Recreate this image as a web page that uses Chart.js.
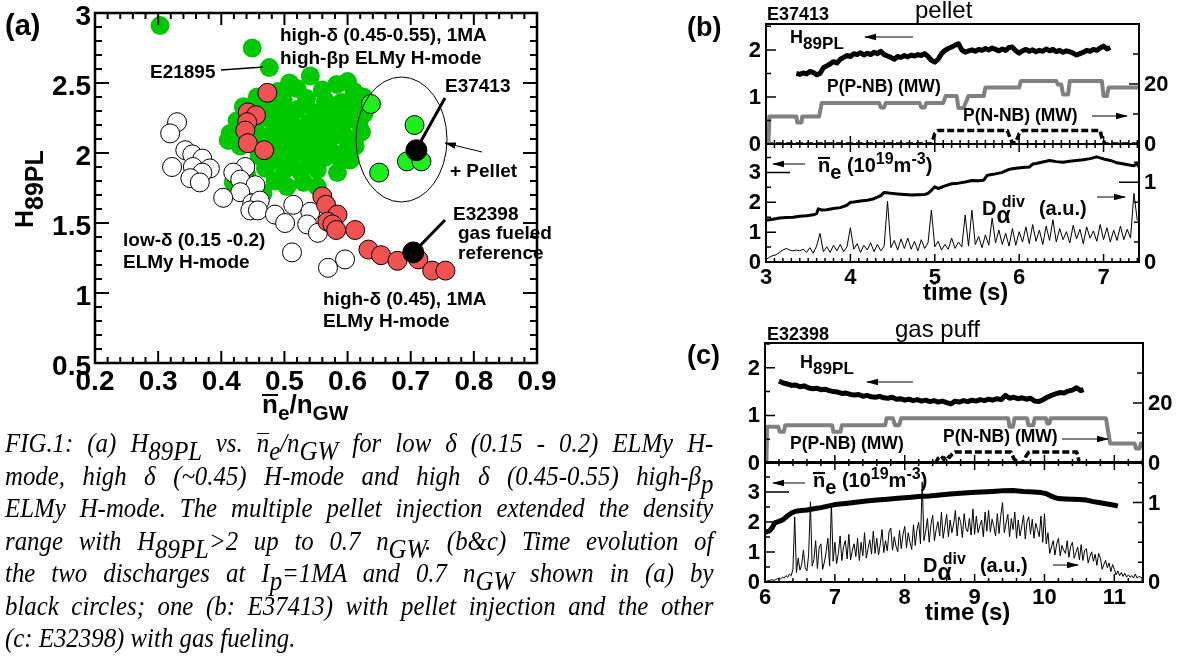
<!DOCTYPE html>
<html>
<head>
<meta charset="utf-8">
<script src="https://cdn.jsdelivr.net/npm/chart.js@4.4.1/dist/chart.umd.min.js"></script>
<style>
  body { margin: 0; background: #fff; }
  #page { position: relative; width: 1188px; height: 662px; overflow: hidden; background: #fff; }
  canvas { position: absolute; }
  .t { position: absolute; font-family: 'Liberation Sans', Arial, sans-serif; font-weight: bold; line-height: 1; white-space: nowrap; color: #000; }
  .n { font-weight: normal; }
  .sub { position: relative; top: 0.35em; }
  .sup { position: relative; top: -0.5em; font-size: 0.8em; }
  .ol { display: inline-block; line-height: 0.68em; border-top: 2px solid #000; }
  .cap { position: absolute; left: 5px; width: 770px; transform: scaleX(0.92); transform-origin: 0 0; font-family: 'Liberation Serif', 'Times New Roman', serif; font-style: italic; font-size: 27px; line-height: 32.5px; text-align: justify; text-align-last: justify; color: #000; }
  .cap.last { text-align-last: left; }
  .cs { position: relative; top: 0.3em; }
  .cap .ol { border-top-width: 1.5px; }
</style>
</head>
<body>
<div id="page">
  <canvas id="chartA" width="560" height="400" style="left:0;top:0"></canvas>
  <canvas id="chartB1" width="488" height="152" style="left:700px;top:0"></canvas>
  <canvas id="chartB2" width="488" height="180" style="left:700px;top:130px"></canvas>
  <canvas id="chartC1" width="488" height="150" style="left:700px;top:320px"></canvas>
  <canvas id="chartC2" width="488" height="212" style="left:700px;top:450px"></canvas>

  <svg width="1188" height="662" style="position:absolute;left:0;top:0;pointer-events:none">
    <defs>
      <marker id="ah" markerWidth="12" markerHeight="8" refX="11" refY="4" orient="auto" markerUnits="userSpaceOnUse">
        <path d="M0,0.8 L12,4 L0,7.2 Z" fill="#000"></path>
      </marker>
    </defs>
    <g stroke="#000" fill="none">
      <line x1="221" y1="70" x2="263" y2="67" stroke-width="1.5"></line>
      <ellipse cx="401.5" cy="139.5" rx="45.5" ry="62.5" stroke-width="1"></ellipse>
      <line x1="416" y1="150" x2="445" y2="98" stroke-width="3"></line>
      <line x1="482" y1="152" x2="445" y2="143" stroke-width="1" marker-end="url(#ah)"></line>
      <line x1="413" y1="253" x2="445" y2="220" stroke-width="3"></line>

      <line x1="913" y1="37" x2="865" y2="37" stroke-width="1" marker-end="url(#ah)"></line>
      <line x1="1092" y1="116" x2="1127" y2="116" stroke-width="1" marker-end="url(#ah)"></line>
      <line x1="805" y1="164" x2="773" y2="164" stroke-width="1" marker-end="url(#ah)"></line>
      <line x1="1097" y1="197" x2="1125" y2="197" stroke-width="1" marker-end="url(#ah)"></line>

      <line x1="913" y1="382" x2="867" y2="382" stroke-width="1" marker-end="url(#ah)"></line>
      <line x1="1062" y1="439" x2="1108" y2="439" stroke-width="1" marker-end="url(#ah)"></line>
      <line x1="805" y1="483" x2="773" y2="483" stroke-width="1" marker-end="url(#ah)"></line>
      <line x1="1053" y1="565" x2="1078" y2="565" stroke-width="1" marker-end="url(#ah)"></line>
    </g>
  </svg>

  <!-- panel (a) text -->
  <div class="t" style="left:5px;top:11px;font-size:29px">(a)</div>
  <div class="t" style="left:12px;top:228px;font-size:25px;transform-origin:0 0;transform:rotate(-90deg)">H<span style="position:relative;top:10px">89PL</span></div>
  <div class="t" style="left:262px;top:391px;font-size:26px"><span class="ol">n</span><span class="sub" style="font-size:0.8em">e</span>/n<span class="sub" style="font-size:0.8em">GW</span></div>
  <div class="t" style="left:280px;top:25px;font-size:19px">high-δ (0.45-0.55), 1MA</div>
  <div class="t" style="left:280px;top:48px;font-size:19px">high-βp ELMy H-mode</div>
  <div class="t" style="left:150px;top:62px;font-size:19px">E21895</div>
  <div class="t" style="left:445px;top:76px;font-size:19px">E37413</div>
  <div class="t" style="left:450px;top:161px;font-size:19px">+ Pellet</div>
  <div class="t" style="left:453px;top:204px;font-size:19px">E32398</div>
  <div class="t" style="left:458px;top:223px;font-size:19px">gas fueled</div>
  <div class="t" style="left:458px;top:243px;font-size:19px">reference</div>
  <div class="t" style="left:123px;top:230px;font-size:19px">low-δ (0.15 -0.2)</div>
  <div class="t" style="left:123px;top:252px;font-size:19px">ELMy H-mode</div>
  <div class="t" style="left:323px;top:289px;font-size:19px">high-δ (0.45), 1MA</div>
  <div class="t" style="left:323px;top:311px;font-size:19px">ELMy H-mode</div>

  <!-- panel (b) text -->
  <div class="t" style="left:687px;top:14px;font-size:27px">(b)</div>
  <div class="t" style="left:767px;top:5px;font-size:18px">E37413</div>
  <div class="t n" style="left:915px;top:-2px;font-size:24px">pellet</div>
  <div class="t" style="left:790px;top:28px;font-size:18px">H<span class="sub" style="font-size:0.95em">89PL</span></div>
  <div class="t" style="left:827px;top:78px;font-size:17.5px">P(P-NB) (MW)</div>
  <div class="t" style="left:963px;top:107px;font-size:17.5px">P(N-NB) (MW)</div>
  <div class="t" style="left:818px;top:155px;font-size:20px"><span class="ol">n</span><span class="sub">e</span> (10<span class="sup">19</span>m<span class="sup">-3</span>)</div>
  <div class="t" style="left:982px;top:196px;font-size:20px">D<span class="sub" style="font-size:1.15em">α</span><span class="sup" style="margin-left:-0.55em">div</span><span style="margin-left:14px">(a.u.)</span></div>
  <div class="t" style="left:923px;top:280px;font-size:24px">time (s)</div>

  <!-- panel (c) text -->
  <div class="t" style="left:687px;top:342px;font-size:27px">(c)</div>
  <div class="t" style="left:767px;top:325px;font-size:18px">E32398</div>
  <div class="t n" style="left:895px;top:317px;font-size:24px">gas puff</div>
  <div class="t" style="left:800px;top:353px;font-size:18px">H<span class="sub" style="font-size:0.95em">89PL</span></div>
  <div class="t" style="left:790px;top:435px;font-size:17.5px">P(P-NB) (MW)</div>
  <div class="t" style="left:943px;top:428px;font-size:17.5px">P(N-NB) (MW)</div>
  <div class="t" style="left:813px;top:470px;font-size:20px"><span class="ol">n</span><span class="sub">e</span> (10<span class="sup">19</span>m<span class="sup">-3</span>)</div>
  <div class="t" style="left:923px;top:553px;font-size:20px">D<span class="sub" style="font-size:1.15em">α</span><span class="sup" style="margin-left:-0.55em">div</span><span style="margin-left:14px">(a.u.)</span></div>
  <div class="t" style="left:925px;top:600px;font-size:24px">time (s)</div>

  <!-- caption -->
  <div class="cap" style="top:427px">FIG.1: (a) H<span class="cs">89PL</span> vs. <span class="ol">n</span><span class="cs">e</span>/n<span class="cs">GW</span> for low δ (0.15 - 0.2) ELMy H-</div>
  <div class="cap" style="top:459.5px">mode, high δ (~0.45) H-mode and high δ (0.45-0.55) high-β<span class="cs">p</span></div>
  <div class="cap" style="top:492px">ELMy H-mode. The multiple pellet injection extended the density</div>
  <div class="cap" style="top:524.5px">range with H<span class="cs">89PL</span>&gt;2 up to 0.7 n<span class="cs">GW</span>. (b&amp;c) Time evolution of</div>
  <div class="cap" style="top:557px">the two discharges at I<span class="cs">p</span>=1MA and 0.7 n<span class="cs">GW</span> shown in (a) by</div>
  <div class="cap" style="top:589.5px">black circles; one (b: E37413) with pellet injection and the other</div>
  <div class="cap last" style="top:622px">(c: E32398) with gas fueling.</div>
</div>

<script>
// ---- panel (a): H89PL vs ne/nGW ----
const greenX = [0.303,0.449,0.476,0.508,0.541,0.600,0.625,0.583,0.490,0.520,
  0.560,0.610,0.457,0.478,0.498,0.535,0.565,0.590,0.615,0.435,
  0.470,0.495,0.520,0.548,0.575,0.600,0.626,0.425,0.460,0.485,
  0.510,0.538,0.565,0.592,0.618,0.622,0.414,0.455,0.480,0.505,
  0.530,0.556,0.582,0.605,0.411,0.430,0.470,0.495,0.520,0.545,
  0.570,0.598,0.612,0.460,0.485,0.512,0.540,0.565,0.590,0.470,
  0.500,0.525,0.552,0.584,0.485,0.504,0.530,0.552,0.466,0.419,
  0.440,0.604];
const greenY = [2.91,2.75,2.61,2.50,2.55,2.51,2.40,2.49,2.44,2.46,
  2.45,2.44,2.40,2.38,2.38,2.39,2.37,2.36,2.34,2.33,
  2.32,2.30,2.31,2.29,2.30,2.28,2.28,2.23,2.24,2.22,
  2.23,2.21,2.22,2.20,2.22,2.15,2.14,2.15,2.14,2.13,
  2.15,2.12,2.13,2.10,2.09,2.05,2.06,2.05,2.04,2.06,
  2.04,2.02,2.05,1.98,1.96,1.97,1.96,1.97,1.95,1.89,
  1.88,1.87,1.88,1.86,1.80,1.76,1.79,1.76,1.71,1.79,
  1.85,1.95];
const redX = [0.473,0.442,0.455,0.441,0.438,0.442,0.468,0.560,0.566,0.584,
  0.568,0.576,0.582,0.612,0.633,0.653,0.679,0.712,0.734,0.755];
const redY = [2.43,2.29,2.27,2.22,2.16,2.07,2.02,1.69,1.63,1.56,
  1.51,1.49,1.45,1.45,1.31,1.27,1.23,1.24,1.16,1.16];
const whiteX = [0.330,0.319,0.343,0.354,0.370,0.322,0.355,0.382,0.370,0.351,
  0.366,0.438,0.419,0.430,0.454,0.430,0.403,0.449,0.461,0.446,
  0.458,0.485,0.501,0.514,0.541,0.536,0.553,0.512,0.569,0.596];
const whiteY = [2.22,2.14,2.02,1.99,1.96,1.90,1.90,1.89,1.86,1.82,
  1.79,1.90,1.86,1.81,1.77,1.72,1.68,1.64,1.66,1.59,
  1.59,1.56,1.50,1.63,1.58,1.49,1.43,1.29,1.18,1.24];
const pelletX = [0.637,0.706,0.694,0.717,0.650];
const pelletY = [2.35,2.20,1.94,1.94,1.86];
const blackX = [0.709,0.704];
const blackY = [2.02,1.29];

// ---- panel (b): E37413 pellet ----
const hBTime = [3.36,3.40,3.44,3.48,3.52,3.56,3.60,3.64,3.68,3.72,
  3.76,3.80,3.84,3.88,3.92,3.96,4.00,4.04,4.08,4.12,
  4.16,4.20,4.24,4.28,4.32,4.36,4.40,4.44,4.48,4.52,
  4.56,4.60,4.64,4.68,4.72,4.76,4.80,4.84,4.88,4.92,
  4.96,5.00,5.04,5.08,5.12,5.16,5.20,5.24,5.28,5.32,
  5.36,5.40,5.44,5.48,5.52,5.56,5.60,5.64,5.68,5.72,
  5.76,5.80,5.84,5.88,5.92,5.96,6.00,6.04,6.08,6.12,
  6.16,6.20,6.24,6.28,6.32,6.36,6.40,6.44,6.48,6.52,
  6.56,6.60,6.64,6.68,6.72,6.76,6.80,6.84,6.88,6.92,
  6.96,7.00,7.04,7.08];
const hBVal = [1.50,1.48,1.51,1.49,1.54,1.52,1.47,1.50,1.62,1.66,
  1.70,1.75,1.72,1.80,1.84,1.88,1.86,1.92,1.90,1.94,
  1.89,1.93,1.90,1.95,1.92,1.97,1.90,1.87,1.84,1.80,
  1.86,1.84,1.88,1.85,1.89,1.87,1.90,1.88,1.92,1.86,
  1.78,1.74,1.80,1.92,1.99,2.03,2.06,2.10,2.13,2.00,
  1.95,1.98,2.00,1.97,2.01,1.99,2.03,2.00,2.04,2.01,
  1.98,2.02,1.99,2.05,2.06,1.98,1.93,1.98,2.01,1.97,
  2.00,1.96,1.99,1.97,2.02,1.98,2.01,1.96,1.99,1.95,
  1.98,1.96,1.93,1.89,1.92,1.95,1.99,1.97,2.01,1.99,
  2.04,2.08,2.02,2.05];
const pbTime = [3.00,3.03,3.04,3.36,3.37,3.42,3.43,3.63,3.66,4.34,
  4.36,4.40,4.42,4.82,4.84,4.88,4.90,5.10,5.13,5.26,
  5.28,5.34,5.40,5.58,5.60,6.00,6.02,6.44,6.46,6.50,
  6.52,6.58,6.60,6.98,7.00,7.04,7.06,7.42];
const pbVal = [0,0,9.2,9.2,7.2,7.2,9.2,9.2,13.7,13.7,
  12.2,12.2,13.7,13.7,12.2,12.2,13.7,13.7,16.0,16.0,
  12.0,12.0,16.0,16.0,18.8,18.8,21.0,21.0,19.8,19.8,
  16.5,16.5,21.0,21.0,16.0,16.0,18.8,18.8];
const nbTime = [3.00,4.96,5.00,5.04,5.86,5.88,5.92,5.96,6.00,6.04,6.96,6.98,7.02,7.42];
const nbVal = [0,0,3.5,4.5,4.5,3.0,0.3,0.5,3.5,4.5,4.5,2.0,0,0];
const neBTime = [3.00,3.08,3.16,3.24,3.32,3.40,3.48,3.56,3.60,3.62,
  3.66,3.72,3.80,3.88,3.96,4.00,4.04,4.12,4.20,4.28,
  4.36,4.40,4.48,4.56,4.64,4.72,4.80,4.88,4.92,4.96,
  5.00,5.04,5.12,5.20,5.28,5.36,5.44,5.52,5.58,5.62,
  5.66,5.72,5.80,5.88,5.92,5.96,6.04,6.12,6.16,6.20,
  6.28,6.36,6.44,6.52,6.60,6.68,6.76,6.84,6.92,7.00,
  7.08,7.16,7.24,7.32,7.36,7.40,7.42];
const neBVal = [1.40,1.43,1.47,1.49,1.50,1.53,1.55,1.58,1.62,1.78,
  1.74,1.75,1.79,1.82,1.90,2.00,2.01,2.04,2.07,2.12,
  2.22,2.33,2.30,2.28,2.26,2.24,2.25,2.26,2.30,2.40,
  2.52,2.46,2.55,2.62,2.64,2.68,2.73,2.72,2.74,2.90,
  2.92,2.95,3.00,3.10,3.12,3.14,3.16,3.18,3.28,3.30,
  3.35,3.40,3.36,3.34,3.37,3.40,3.42,3.46,3.52,3.45,
  3.40,3.32,3.28,3.24,3.22,3.30,3.18];
const dbTime = [3.00,3.04,3.08,3.12,3.16,3.20,3.24,3.28,3.32,3.36,
  3.40,3.44,3.48,3.52,3.56,3.60,3.64,3.68,3.72,3.76,
  3.80,3.84,3.88,3.92,3.96,4.00,4.04,4.08,4.12,4.16,
  4.20,4.24,4.28,4.32,4.36,4.40,4.44,4.48,4.52,4.56,
  4.60,4.64,4.68,4.72,4.76,4.80,4.84,4.88,4.92,4.96,
  5.00,5.04,5.08,5.12,5.16,5.20,5.24,5.28,5.32,5.36,
  5.40,5.44,5.48,5.52,5.56,5.60,5.64,5.68,5.72,5.76,
  5.80,5.84,5.88,5.92,5.96,6.00,6.04,6.08,6.12,6.16,
  6.20,6.24,6.28,6.32,6.36,6.40,6.44,6.48,6.52,6.56,
  6.60,6.64,6.68,6.72,6.76,6.80,6.84,6.88,6.92,6.96,
  7.00,7.04,7.08,7.12,7.16,7.20,7.24,7.28,7.32,7.36,
  7.40];
const dbVal = [0.03,0.06,0.08,0.09,0.12,0.15,0.17,0.15,0.14,0.15,
  0.14,0.16,0.12,0.18,0.11,0.20,0.36,0.13,0.19,0.12,
  0.21,0.14,0.22,0.13,0.19,0.43,0.16,0.23,0.12,0.21,
  0.15,0.24,0.13,0.22,0.14,0.20,0.76,0.18,0.27,0.15,
  0.29,0.17,0.30,0.16,0.26,0.14,0.28,0.17,0.24,0.65,
  0.19,0.26,0.15,0.22,0.16,0.30,0.17,0.25,0.19,0.59,
  0.20,0.65,0.22,0.32,0.18,0.34,0.21,0.55,0.24,0.40,
  0.22,0.36,0.20,0.42,0.21,0.38,0.25,0.44,0.23,0.47,
  0.26,0.40,0.22,0.45,0.27,0.53,0.25,0.42,0.28,0.38,
  0.24,0.46,0.29,0.41,0.23,0.44,0.30,0.39,0.26,0.47,
  0.28,0.43,0.25,0.40,0.27,0.45,0.28,0.41,0.30,0.86,
  0.52];

// ---- panel (c): E32398 gas puff ----
const hCTime = [6.20,6.26,6.32,6.38,6.44,6.50,6.56,6.62,6.68,6.74,
  6.80,6.86,6.92,6.98,7.04,7.10,7.16,7.22,7.28,7.34,
  7.40,7.46,7.52,7.58,7.64,7.70,7.76,7.82,7.88,7.94,
  8.00,8.06,8.12,8.18,8.24,8.30,8.36,8.42,8.48,8.54,
  8.60,8.66,8.72,8.78,8.84,8.90,8.96,9.02,9.08,9.14,
  9.20,9.26,9.32,9.38,9.44,9.50,9.56,9.62,9.68,9.74,
  9.80,9.86,9.92,9.98,10.04,10.10,10.16,10.22,10.28,10.34,
  10.40,10.46,10.52,10.56];
const hCVal = [1.72,1.68,1.66,1.63,1.64,1.60,1.62,1.58,1.56,1.57,
  1.54,1.55,1.52,1.50,1.49,1.46,1.47,1.44,1.43,1.44,
  1.40,1.42,1.39,1.38,1.40,1.37,1.36,1.38,1.34,1.35,
  1.32,1.34,1.31,1.33,1.30,1.32,1.29,1.31,1.28,1.30,
  1.27,1.24,1.30,1.28,1.31,1.29,1.32,1.30,1.33,1.31,
  1.34,1.32,1.35,1.33,1.42,1.36,1.38,1.35,1.37,1.34,
  1.36,1.30,1.29,1.33,1.38,1.42,1.45,1.48,1.47,1.51,
  1.53,1.58,1.52,1.54];
const pcTime = [6.00,6.02,6.03,6.19,6.21,6.27,6.29,6.96,6.98,7.08,
  7.10,7.72,7.74,7.83,7.86,7.92,7.95,9.48,9.50,9.55,
  9.57,9.75,9.77,9.84,9.86,10.02,10.04,10.07,10.09,10.88,
  10.94,11.29,11.31,11.36,11.38,11.41];
const pcVal = [0,0,12.1,12.1,10.4,10.4,12.6,12.6,10.4,10.4,
  12.6,12.6,14.9,14.9,12.6,12.6,14.9,14.9,12.1,12.1,
  14.9,14.9,12.6,12.6,14.9,14.9,13.2,13.2,14.9,14.9,
  6.5,6.5,4.8,4.8,6.5,6.5];
const ncTime = [6.00,8.44,8.48,8.52,8.56,8.60,8.64,8.68,8.72,8.78,
  9.52,9.56,9.62,9.70,9.74,9.78,10.46,10.50,11.41];
const ncVal = [0,0,1.6,2.3,1.2,2.6,1.9,3.0,3.7,3.7,
  3.7,1.5,0,0.3,2.5,3.7,3.7,0,0];
const neCTime = [6.00,6.06,6.10,6.14,6.20,6.26,6.32,6.38,6.44,6.52,
  6.60,6.70,6.80,6.90,7.00,7.15,7.30,7.45,7.60,7.75,
  7.90,8.05,8.20,8.35,8.50,8.65,8.80,8.95,9.10,9.25,
  9.40,9.55,9.70,9.85,9.95,10.02,10.08,10.14,10.20,10.30,
  10.40,10.50,10.60,10.70,10.80,10.90,11.00,11.05];
const neCVal = [1.65,1.70,1.80,1.97,2.02,2.08,2.20,2.30,2.36,2.38,
  2.40,2.44,2.48,2.53,2.58,2.62,2.66,2.70,2.73,2.76,
  2.79,2.82,2.85,2.87,2.90,2.93,2.96,2.98,3.00,3.02,
  3.04,3.05,3.02,3.00,2.98,2.95,2.88,2.82,2.78,2.77,
  2.76,2.75,2.73,2.68,2.64,2.60,2.56,2.53];
const dcTime = [6.000,6.025,6.050,6.075,6.100,6.125,6.150,6.175,
  6.200,6.225,6.250,6.275,6.300,6.325,6.350,6.375,
  6.400,6.425,6.450,6.475,6.500,6.525,6.550,6.575,
  6.600,6.625,6.650,6.675,6.700,6.725,6.750,6.775,
  6.800,6.825,6.850,6.875,6.900,6.925,6.950,6.975,
  7.000,7.025,7.050,7.075,7.100,7.125,7.150,7.175,
  7.200,7.225,7.250,7.275,7.300,7.325,7.350,7.375,
  7.400,7.425,7.450,7.475,7.500,7.525,7.550,7.575,
  7.600,7.625,7.650,7.675,7.700,7.725,7.750,7.775,
  7.800,7.825,7.850,7.875,7.900,7.925,7.950,7.975,
  8.000,8.025,8.050,8.075,8.100,8.125,8.150,8.175,
  8.200,8.225,8.250,8.275,8.300,8.325,8.350,8.375,
  8.400,8.425,8.450,8.475,8.500,8.525,8.550,8.575,
  8.600,8.625,8.650,8.675,8.700,8.725,8.750,8.775,
  8.800,8.825,8.850,8.875,8.900,8.925,8.950,8.975,
  9.000,9.025,9.050,9.075,9.100,9.125,9.150,9.175,
  9.200,9.225,9.250,9.275,9.300,9.325,9.350,9.375,
  9.400,9.425,9.450,9.475,9.500,9.525,9.550,9.575,
  9.600,9.625,9.650,9.675,9.700,9.725,9.750,9.775,
  9.800,9.825,9.850,9.875,9.900,9.925,9.950,9.975,
  10.000,10.025,10.050,10.075,10.100,10.125,10.150,10.175,
  10.200,10.225,10.250,10.275,10.300,10.325,10.350,10.375,
  10.400,10.425,10.450,10.475,10.500,10.525,10.550,10.575,
  10.600,10.625,10.650,10.675,10.700,10.725,10.750,10.775,
  10.800,10.825,10.850,10.875,10.900,10.925,10.950,10.975,
  11.000,11.025,11.050,11.075,11.100,11.125,11.150,11.175,
  11.200,11.225,11.250,11.275,11.300,11.325,11.350,11.375,
  11.400];
const dcVal = [0.01,0.01,0.02,0.02,0.03,0.02,0.03,0.04,
  0.05,0.04,0.06,0.05,0.08,0.06,0.10,0.08,
  0.16,0.82,0.12,0.30,0.15,0.22,0.40,0.18,
  0.14,0.35,1.01,0.20,0.28,0.52,0.17,0.43,
  0.48,0.16,0.25,0.38,0.55,0.20,0.99,0.26,
  0.50,0.23,0.36,0.58,0.27,0.45,0.52,0.29,
  0.60,0.28,0.40,0.48,0.32,0.55,0.27,0.50,
  0.33,0.62,0.30,0.42,0.53,0.35,0.64,0.36,
  0.55,0.34,0.48,0.66,0.37,0.52,0.39,0.63,
  0.68,0.40,0.57,0.45,0.38,0.65,0.42,0.60,
  0.70,0.43,0.62,0.50,0.41,0.72,0.46,0.66,
  0.75,0.48,1.26,0.52,0.64,0.80,0.50,0.72,
  0.84,0.52,0.66,0.76,0.58,0.88,0.55,0.70,
  0.85,0.57,0.78,0.62,0.73,0.90,0.58,0.82,
  0.76,0.56,0.86,0.68,0.63,0.80,0.59,0.92,
  0.60,0.83,0.62,0.71,0.78,0.57,0.88,0.64,
  0.90,0.63,0.79,0.70,0.58,0.86,0.61,0.84,
  1.00,0.62,0.74,0.85,0.57,0.80,0.66,0.88,
  0.55,0.78,0.58,0.70,0.84,0.54,0.76,0.82,
  0.60,0.79,0.55,0.74,0.66,0.57,0.83,0.50,
  0.86,0.48,0.62,0.36,0.44,0.52,0.34,0.48,
  0.55,0.33,0.46,0.40,0.36,0.52,0.31,0.45,
  0.50,0.30,0.37,0.44,0.28,0.47,0.27,0.40,
  0.42,0.24,0.32,0.38,0.26,0.35,0.21,0.36,
  0.30,0.16,0.22,0.27,0.18,0.24,0.13,0.22,
  0.16,0.09,0.14,0.08,0.12,0.07,0.11,0.06,
  0.09,0.06,0.08,0.05,0.10,0.05,0.07,0.06,
  0.05];

const FONT = "'Liberation Sans', Arial, Helvetica, sans-serif";

function bold(size) {
  return { family: FONT, size: size, weight: 'bold' };
}

function pts(xs, ys) {
  return xs.map(function (x, i) { return { x: x, y: ys[i] }; });
}

function drawTick(ctx, a, side, p, len) {
  if (side === 'bottom') { ctx.moveTo(p, a.bottom); ctx.lineTo(p, a.bottom - len); }
  if (side === 'top') { ctx.moveTo(p, a.top); ctx.lineTo(p, a.top + len); }
  if (side === 'left') { ctx.moveTo(a.left, p); ctx.lineTo(a.left + len, p); }
  if (side === 'right') { ctx.moveTo(a.right, p); ctx.lineTo(a.right - len, p); }
}

// frame box + inward tick marks, positions taken from the chart scales
const frameTicks = {
  id: 'frameTicks',
  afterDatasetsDraw(chart, args, opts) {
    const ctx = chart.ctx;
    const a = chart.chartArea;
    ctx.save();
    ctx.strokeStyle = '#000';
    ctx.lineWidth = opts.tickWidth || 1.5;
    ctx.beginPath();
    (opts.marks || []).forEach(function (m) {
      const s = chart.scales[m.scale];
      const first = Math.ceil(s.min / m.step - 1e-6);
      const last = Math.floor(s.max / m.step + 1e-6);
      for (let k = first; k <= last; k++) {
        const v = k * m.step;
        const isMajor = m.major && Math.abs(v / m.major - Math.round(v / m.major)) < 1e-6;
        drawTick(ctx, a, m.side, s.getPixelForValue(v), isMajor ? m.majorLen : m.len);
      }
      (m.extra || []).forEach(function (e) {
        drawTick(ctx, a, m.side, s.getPixelForValue(e.v), e.len);
      });
    });
    ctx.stroke();
    ctx.lineWidth = opts.frameWidth || 2;
    ctx.strokeRect(a.left, a.top, a.right - a.left, a.bottom - a.top);
    ctx.restore();
  }
};

new Chart(document.getElementById('chartA'), {
  type: 'scatter',
  data: {
    datasets: [
      { data: pts(blackX, blackY), pointRadius: 10.5, pointBackgroundColor: '#000', pointBorderColor: '#000', pointBorderWidth: 1, order: 0 },
      { data: pts(pelletX, pelletY), pointRadius: 9.5, pointBackgroundColor: '#1ef01e', pointBorderColor: '#000', pointBorderWidth: 1, order: 1 },
      { data: pts(redX, redY), pointRadius: 9.5, pointBackgroundColor: '#f25252', pointBorderColor: '#000', pointBorderWidth: 1, order: 2 },
      { data: pts(whiteX, whiteY), pointRadius: 9.5, pointBackgroundColor: '#fff', pointBorderColor: '#000', pointBorderWidth: 1, order: 3 },
      { data: pts(greenX, greenY), pointRadius: 9.5, pointBackgroundColor: '#00c800', pointBorderWidth: 0, order: 4 }
    ]
  },
  options: {
    responsive: false,
    animation: false,
    events: [],
    layout: { padding: { left: 0, top: 13, right: 23, bottom: 0 }, autoPadding: false },
    plugins: {
      legend: { display: false },
      tooltip: { enabled: false },
      frameTicks: {
        frameWidth: 2.5,
        tickWidth: 2,
        marks: [
          { scale: 'x', side: 'bottom', step: 0.02, len: 6, major: 0.1, majorLen: 12 },
          { scale: 'x', side: 'top', step: 0.02, len: 6, major: 0.1, majorLen: 12 },
          { scale: 'y', side: 'left', step: 0.1, len: 7, major: 0.5, majorLen: 14 },
          { scale: 'y', side: 'right', step: 0.1, len: 7, major: 0.5, majorLen: 14 }
        ]
      }
    },
    scales: {
      x: {
        type: 'linear', min: 0.2, max: 0.9,
        grid: { display: false, drawTicks: false }, border: { display: false },
        ticks: { stepSize: 0.1, autoSkip: false, includeBounds: false, maxRotation: 0, padding: 2, color: '#000', font: bold(28),
          callback: function (v) { return v.toFixed(1); } },
        afterFit: function (s) { s.height = 37; s.paddingLeft = 0; s.paddingRight = 0; }
      },
      y: {
        min: 0.5, max: 3,
        grid: { display: false, drawTicks: false }, border: { display: false },
        ticks: { stepSize: 0.5, autoSkip: false, includeBounds: false, padding: 4, labelOffset: 4, color: '#000', font: bold(28),
          callback: function (v) { return String(Number(v.toFixed(1))); } },
        afterFit: function (s) { s.width = 95; s.paddingTop = 0; s.paddingBottom = 0; }
      }
    }
  },
  plugins: [frameTicks]
});

function traceChart(id, p) {
  return new Chart(document.getElementById(id), {
    type: 'line',
    data: { datasets: p.datasets },
    options: {
      responsive: false,
      animation: false,
      events: [],
      layout: { padding: p.padding, autoPadding: false },
      elements: { point: { radius: 0 }, line: { tension: 0, fill: false, borderJoinStyle: 'round' } },
      plugins: { legend: { display: false }, tooltip: { enabled: false }, frameTicks: p.marks },
      scales: {
        x: {
          type: 'linear', min: p.xMin, max: p.xMax,
          grid: { display: false, drawTicks: false }, border: { display: false },
          ticks: { display: p.xHeight > 0, stepSize: 1, autoSkip: false, includeBounds: false, maxRotation: 0, padding: 3, color: '#000', font: bold(22) },
          afterFit: function (s) { s.height = p.xHeight; s.paddingLeft = 0; s.paddingRight = 0; }
        },
        y: {
          position: 'left', min: 0, max: p.yMax,
          grid: { display: false, drawTicks: false }, border: { display: false },
          ticks: { stepSize: 1, autoSkip: false, includeBounds: false, padding: 5, labelOffset: 1, color: '#000', font: bold(22),
            callback: function (v) { return v <= 3 ? v : ''; } },
          afterFit: function (s) { s.width = p.yWidth; s.paddingTop = 0; s.paddingBottom = 0; }
        },
        y2: {
          position: 'right', min: 0, max: p.y2Max,
          grid: { display: false, drawTicks: false }, border: { display: false },
          ticks: { stepSize: p.y2Step, autoSkip: false, includeBounds: false, padding: 5, labelOffset: 1, color: '#000', font: bold(22),
            callback: p.y2Label },
          afterFit: function (s) { s.width = p.y2Width; s.paddingTop = 0; s.paddingBottom = 0; }
        }
      }
    },
    plugins: [frameTicks]
  });
}

function mwLabel(v) { return (v === 0 || v === 20) ? v : ''; }
function auLabel(v) { return v; }

traceChart('chartB1', {
  padding: { left: 0, top: 24, right: 0, bottom: 8 },
  xMin: 3, xMax: 7.42, xHeight: 0, yMax: 2.55, yWidth: 66, y2Max: 40, y2Step: 10, y2Width: 49, y2Label: mwLabel,
  datasets: [
    { data: pts(hBTime, hBVal), yAxisID: 'y', borderColor: '#000', borderWidth: 5, order: 0 },
    { data: pts(pbTime, pbVal), yAxisID: 'y2', borderColor: '#808080', borderWidth: 4, order: 1 },
    { data: pts(nbTime, nbVal), yAxisID: 'y2', borderColor: '#000', borderWidth: 3.5, borderDash: [7, 3], order: 2 }
  ],
  marks: { frameWidth: 2, tickWidth: 1.5, marks: [
    { scale: 'x', side: 'bottom', step: 0.1, len: 4, major: 1, majorLen: 8 },
    { scale: 'y', side: 'left', step: 0.5, len: 5, major: 1, majorLen: 10 },
    { scale: 'y2', side: 'right', step: 10, len: 6, major: 20, majorLen: 10 }
  ] }
});

traceChart('chartB2', {
  padding: { left: 0, top: 14, right: 0, bottom: 0 },
  xMin: 3, xMax: 7.42, xHeight: 48, yMax: 3.95, yWidth: 66, y2Max: 1.48, y2Step: 1, y2Width: 49, y2Label: auLabel,
  datasets: [
    { data: pts(neBTime, neBVal), yAxisID: 'y', borderColor: '#000', borderWidth: 3, order: 0 },
    { data: pts(dbTime, dbVal), yAxisID: 'y2', borderColor: '#000', borderWidth: 1, order: 1 }
  ],
  marks: { frameWidth: 2, tickWidth: 1.5, marks: [
    { scale: 'x', side: 'bottom', step: 0.1, len: 4, major: 1, majorLen: 8 },
    { scale: 'x', side: 'top', step: 0.1, len: 4, major: 1, majorLen: 8 },
    { scale: 'y', side: 'left', step: 0.5, len: 5, major: 1, majorLen: 10, extra: [{ v: 3, len: 24 }] },
    { scale: 'y2', side: 'right', step: 0.25, len: 5, major: 1, majorLen: 10, extra: [{ v: 1, len: 20 }] }
  ] }
});

traceChart('chartC1', {
  padding: { left: 0, top: 23, right: 0, bottom: 7 },
  xMin: 6, xMax: 11.41, xHeight: 0, yMax: 2.52, yWidth: 65, y2Max: 40, y2Step: 10, y2Width: 45, y2Label: mwLabel,
  datasets: [
    { data: pts(hCTime, hCVal), yAxisID: 'y', borderColor: '#000', borderWidth: 5, order: 0 },
    { data: pts(pcTime, pcVal), yAxisID: 'y2', borderColor: '#808080', borderWidth: 4, order: 1 },
    { data: pts(ncTime, ncVal), yAxisID: 'y2', borderColor: '#000', borderWidth: 3.5, borderDash: [7, 3], order: 2 }
  ],
  marks: { frameWidth: 2, tickWidth: 1.5, marks: [
    { scale: 'x', side: 'bottom', step: 0.2, len: 4, major: 1, majorLen: 8 },
    { scale: 'y', side: 'left', step: 0.5, len: 5, major: 1, majorLen: 10 },
    { scale: 'y2', side: 'right', step: 10, len: 6, major: 20, majorLen: 10 }
  ] }
});

traceChart('chartC2', {
  padding: { left: 0, top: 12, right: 0, bottom: 0 },
  xMin: 6, xMax: 11.41, xHeight: 80, yMax: 4.0, yWidth: 65, y2Max: 1.51, y2Step: 1, y2Width: 45, y2Label: auLabel,
  datasets: [
    { data: pts(neCTime, neCVal), yAxisID: 'y', borderColor: '#000', borderWidth: 5, order: 0 },
    { data: pts(dcTime, dcVal), yAxisID: 'y2', borderColor: '#000', borderWidth: 1, order: 1 }
  ],
  marks: { frameWidth: 2, tickWidth: 1.5, marks: [
    { scale: 'x', side: 'bottom', step: 0.2, len: 4, major: 1, majorLen: 8 },
    { scale: 'x', side: 'top', step: 0.2, len: 4, major: 1, majorLen: 8 },
    { scale: 'y', side: 'left', step: 0.5, len: 5, major: 1, majorLen: 10, extra: [{ v: 3, len: 24 }] },
    { scale: 'y2', side: 'right', step: 0.25, len: 5, major: 1, majorLen: 10 }
  ] }
});
</script>
</body>
</html>
